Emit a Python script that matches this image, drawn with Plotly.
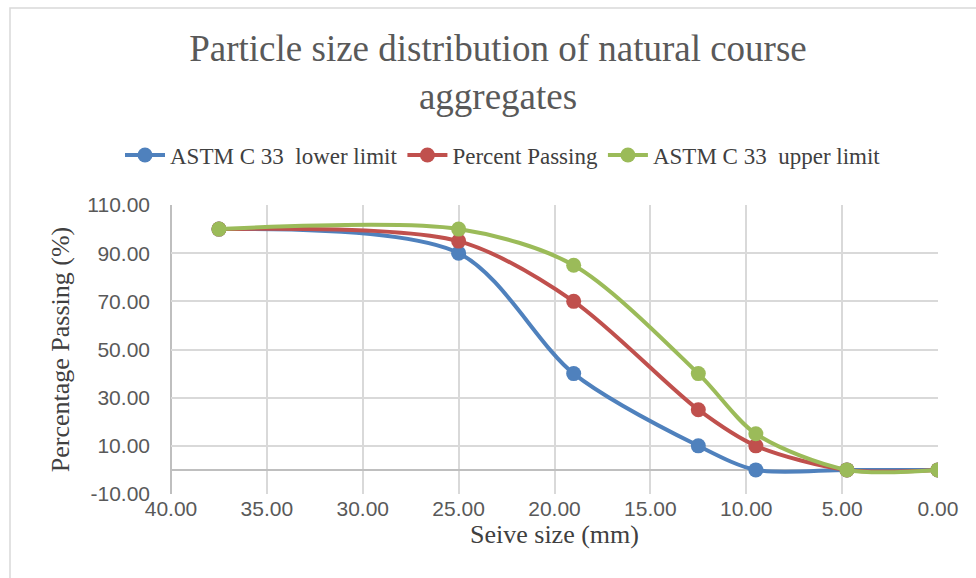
import plotly.graph_objects as go

sieve_mm = [37.5, 25.0, 19.0, 12.5, 9.5, 4.75, 0.0]
lower_limit = [100, 90, 40, 10, 0, 0, 0]
percent_passing = [100, 95, 70, 25, 10, 0, 0]
upper_limit = [100, 100, 85, 40, 15, 0, 0]

y_tick_vals = [-10, 10, 30, 50, 70, 90, 110]
y_tick_text = ["-10.00", "10.00", "30.00", "50.00", "70.00", "90.00", "110.00"]
x_tick_vals = [40, 35, 30, 25, 20, 15, 10, 5, 0]
x_tick_text = ["40.00", "35.00", "30.00", "25.00", "20.00", "15.00", "10.00", "5.00", "0.00"]

series = [
    ("ASTM C 33  lower limit", lower_limit, "#4F81BD"),
    ("Percent Passing", percent_passing, "#C0504D"),
    ("ASTM C 33  upper limit", upper_limit, "#9BBB59"),
]

fig = go.Figure()
for name, vals, col in series:
    fig.add_trace(go.Scatter(
        x=sieve_mm, y=vals, name=name, mode="lines+markers",
        line=dict(color=col, width=4, shape="spline", smoothing=0.85),
        marker=dict(color=col, size=15),
    ))

L, R, T, B = 171, 38, 205, 84
W, H = 976, 578
pw, ph = W - L - R, H - T - B

def px_x(p):
    return (p - L) / pw

def px_y(p):
    return (H - B - p) / ph

serif = "Liberation Serif, Times New Roman, serif"
sans = "Liberation Sans, Arial, sans-serif"

fig.update_layout(
    width=W, height=H,
    margin=dict(l=L, r=R, t=T, b=B, autoexpand=False),
    paper_bgcolor="white", plot_bgcolor="white",
    title=dict(
        text="Particle size distribution of natural course<br>aggregates",
        x=px_x(498), xanchor="center", xref="paper",
        y=1 - 61 / H, yanchor="middle",
        font=dict(family=serif, size=37, color="#595959"),
    ),
    legend=dict(
        orientation="h", xref="container", x=503 / W, xanchor="center",
        yref="container", y=1 - 155 / H, yanchor="middle",
        font=dict(family=serif, size=23, color="#404040"),
        bgcolor="rgba(0,0,0,0)", itemwidth=40,
    ),
    xaxis=dict(
        range=[40, 0], tickvals=x_tick_vals, ticktext=x_tick_text,
        showgrid=True, gridcolor="#D9D9D9", gridwidth=1.5,
        showline=False, zeroline=False, ticks="",
        tickfont=dict(family=sans, size=21, color="#595959"),
        title=dict(text="Seive size (mm)", font=dict(family=serif, size=26, color="#404040"), standoff=4),
    ),
    yaxis=dict(
        range=[-10, 110], tickvals=y_tick_vals, ticktext=y_tick_text,
        showgrid=True, gridcolor="#D9D9D9", gridwidth=1.5,
        zeroline=True, zerolinecolor="#BFBFBF", zerolinewidth=2,
        showline=False, ticks="", ticklabelstandoff=20,
        tickfont=dict(family=sans, size=21, color="#595959"),
        title=dict(text="Percentage Passing (%)", font=dict(family=serif, size=26, color="#404040"), standoff=10),
    ),
    showlegend=True,
    shapes=[
        dict(type="line", xref="paper", yref="paper", x0=0, x1=0, y0=0, y1=1,
             line=dict(color="#BFBFBF", width=2), layer="below"),
        dict(type="rect", xref="paper", yref="paper",
             x0=px_x(10), x1=px_x(980), y0=px_y(582), y1=px_y(8),
             line=dict(color="#D9D9D9", width=1.5), fillcolor="rgba(0,0,0,0)"),
    ],
)

fig.write_html("out.html")
